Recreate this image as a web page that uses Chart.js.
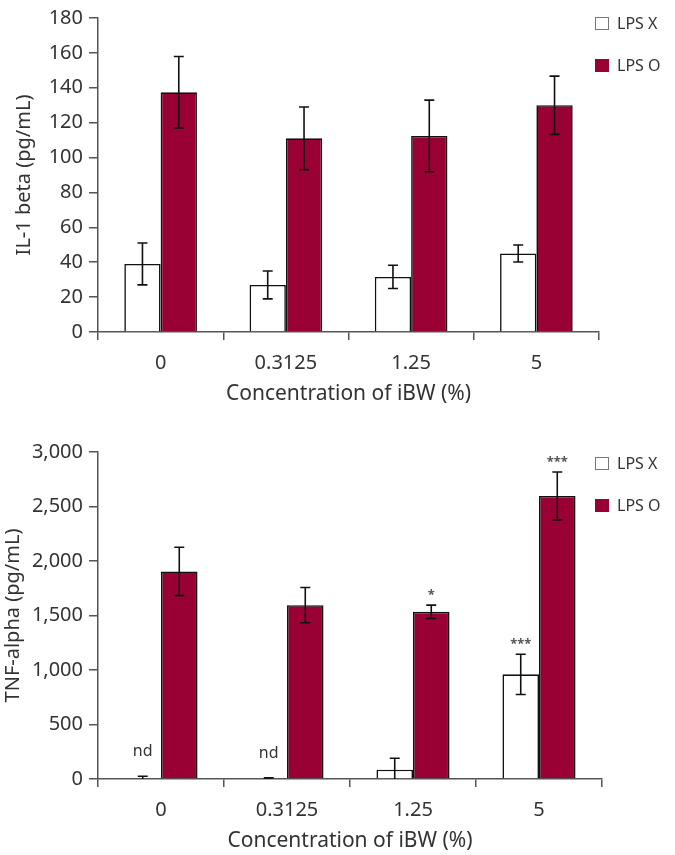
<!DOCTYPE html>
<html><head><meta charset="utf-8">
<script src="https://cdn.jsdelivr.net/npm/chart.js@4.4.1/dist/chart.umd.min.js"></script>
<style>
html,body{margin:0;padding:0;background:#fff;overflow:hidden;}
#w1{position:absolute;left:0;top:0;width:675px;height:420px;}
#w2{position:absolute;left:0;top:430px;width:675px;height:425px;}
</style></head><body>
<div id="w1"><canvas id="c1"></canvas></div>
<div id="w2"><canvas id="c2"></canvas></div>
<script>
// ---- data ----
const categories = ['0', '0.3125', '1.25', '5'];
const seriesNames = ['LPS X', 'LPS O'];
const il1LpsX    = [39, 27, 31.6, 45];
const il1LpsXErr = [12, 8, 6.7, 4.9];
const il1LpsO    = [137.4, 111, 112.4, 130];
const il1LpsOErr = [20.5, 18, 20.5, 16.7];
const tnfLpsX    = [0, 0, 85, 960];
const tnfLpsXErr = [25, 10, 105, 185];
const tnfLpsO    = [1904, 1595, 1534, 2597];
const tnfLpsOErr = [222, 162, 61, 220];
const tnfLpsXMarks = ['nd', 'nd', '', '***'];
const tnfLpsOMarks = ['', '', '*', '***'];
const il1Ticks = [0, 20, 40, 60, 80, 100, 120, 140, 160, 180];
const tnfTicks = [0, 500, 1000, 1500, 2000, 2500, 3000];
const xTitle = 'Concentration of iBW (%)';
const il1Title = 'IL-1 beta (pg/mL)';
const tnfTitle = 'TNF-alpha (pg/mL)';

// ---- style ----
const FONT = "'Noto Sans', sans-serif";
const TXT = '#333';
const AXIS = '#555';
const RED = '#990033';

const errorBarPlugin = {
  id: 'errorBars',
  afterDatasetsDraw(chart) {
    const ctx = chart.ctx;
    const ys = chart.scales.y;
    ctx.save();
    chart.data.datasets.forEach((ds, di) => {
      const meta = chart.getDatasetMeta(di);
      meta.data.forEach((bar, i) => {
        const v = ds.data[i] || 0;
        const e = ds.errors ? ds.errors[i] : 0;
        const yt = ys.getPixelForValue(v + e);
        const yb = ys.getPixelForValue(Math.max(0, v - e));
        const x = bar.x;
        ctx.strokeStyle = '#111';
        ctx.lineWidth = 1.6;
        ctx.beginPath();
        ctx.moveTo(x, yt); ctx.lineTo(x, yb);
        ctx.moveTo(x - 5, yt); ctx.lineTo(x + 5, yt);
        if (v - e > 0) { ctx.moveTo(x - 5, yb); ctx.lineTo(x + 5, yb); }
        ctx.stroke();
        const m = ds.marks ? ds.marks[i] : '';
        if (m) {
          ctx.fillStyle = TXT;
          ctx.textAlign = 'center';
          ctx.textBaseline = 'alphabetic';
          if (m === 'nd') {
            ctx.font = '16px ' + FONT;
            ctx.fillText(m, x, yt - 20);
          } else {
            ctx.fillStyle = '#555';
            ctx.font = 'bold 13px ' + FONT;
            ctx.fillText(m, x, yt - 6);
          }
        }
      });
    });
    ctx.restore();
  }
};

const legendPlugin = {
  id: 'boxLegend',
  afterDraw(chart, args, opts) {
    const ctx = chart.ctx;
    ctx.save();
    chart.data.datasets.forEach((ds, di) => {
      const x = opts.x, y = opts.y + di * 42;
      ctx.fillStyle = ds.backgroundColor;
      ctx.fillRect(x, y, 14, 13);
      ctx.strokeStyle = di === 0 ? '#777' : RED;
      ctx.lineWidth = 1;
      ctx.strokeRect(x + 0.5, y + 0.5, 13, 12);
      ctx.fillStyle = TXT;
      ctx.font = '16px ' + FONT;
      ctx.textAlign = 'left';
      ctx.textBaseline = 'middle';
      ctx.fillText(ds.label, x + 22, y + 7);
    });
    ctx.restore();
  }
};

function makeChart(id, cfg) {
  return new Chart(document.getElementById(id), {
    type: 'bar',
    data: {
      labels: categories,
      datasets: [
        { label: seriesNames[0], data: cfg.x, errors: cfg.xErr, marks: cfg.xMarks,
          backgroundColor: '#ffffff', borderColor: '#111', borderWidth: 1.6 },
        { label: seriesNames[1], data: cfg.o, errors: cfg.oErr, marks: cfg.oMarks,
          backgroundColor: RED, borderColor: '#111', borderWidth: 1.6 }
      ]
    },
    plugins: [errorBarPlugin, legendPlugin],
    options: {
      responsive: true,
      maintainAspectRatio: false,
      animation: false,
      layout: { padding: { top: cfg.padTop, right: cfg.padRight, left: 0, bottom: 0 } },
      datasets: { bar: { categoryPercentage: 0.58, barPercentage: 1.0 } },
      plugins: {
        legend: { display: false },
        tooltip: { enabled: false },
        boxLegend: { x: 595, y: cfg.legY }
      },
      scales: {
        x: {
          grid: { display: true, drawOnChartArea: false, drawTicks: true, tickLength: 8,
                  color: AXIS, lineWidth: 1.5, offset: true },
          border: { display: true, color: AXIS, width: 1.5 },
          ticks: { color: TXT, font: { family: FONT, size: 20 }, padding: 11 },
          title: { display: true, text: xTitle, color: TXT,
                   font: { family: FONT, size: 21 }, padding: { top: 0, bottom: cfg.xTitlePad } },
          afterFit(s) { s.height = cfg.xHeight; }
        },
        y: {
          min: cfg.ticks[0], max: cfg.ticks[cfg.ticks.length - 1],
          afterBuildTicks(s) { s.ticks = cfg.ticks.map(v => ({ value: v })); },
          grid: { display: true, drawOnChartArea: false, drawTicks: true, tickLength: 9,
                  color: AXIS, lineWidth: 1.5 },
          border: { display: true, color: AXIS, width: 1.5 },
          ticks: { color: TXT, font: { family: FONT, size: 20 }, padding: 6,
                   callback: v => Number(v).toLocaleString('en-US') },
          title: { display: true, text: cfg.yTitle, color: TXT,
                   font: { family: FONT, size: 20 }, padding: { top: cfg.yTitlePad, bottom: 0 } },
          afterFit(s) { s.width = 98; }
        }
      }
    }
  });
}

makeChart('c1', {
  x: il1LpsX, xErr: il1LpsXErr, xMarks: null,
  o: il1LpsO, oErr: il1LpsOErr, oMarks: null,
  ticks: il1Ticks, yTitle: il1Title,
  padTop: 15, padRight: 76, xHeight: 88, xTitlePad: 13, yTitlePad: 12, legY: 17
});
makeChart('c2', {
  x: tnfLpsX, xErr: tnfLpsXErr, xMarks: tnfLpsXMarks,
  o: tnfLpsO, oErr: tnfLpsOErr, oMarks: tnfLpsOMarks,
  ticks: tnfTicks, yTitle: tnfTitle,
  padTop: 22, padRight: 73, xHeight: 76, xTitlePad: 1, yTitlePad: 1, legY: 27
});
</script>
</body></html>
